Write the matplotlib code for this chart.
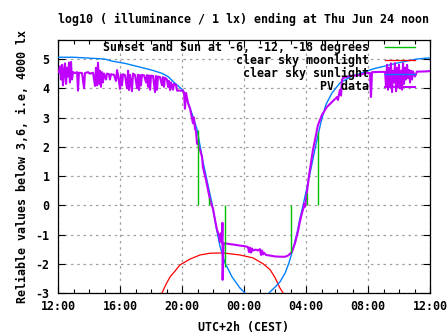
import matplotlib
matplotlib.use("Agg")
import matplotlib.pyplot as plt
from matplotlib.ticker import MultipleLocator, FuncFormatter
from matplotlib.lines import Line2D

# ---- data (time axis in hours after 12:00 CEST) ----
twilight_hours = [9.05, 9.76, 10.77, 15.05, 16.08, 16.79]
twilight_level = [2.57, 0.24, -2.10, -1.64, 0.42, 2.50]

sun_hours = [0.00, 1.00, 2.00, 3.00, 3.48, 4.00, 4.32, 5.16, 6.06, 6.71, 7.10,
             7.55, 8.06, 8.39, 8.71, 8.97, 9.16, 9.35, 9.61, 9.94, 10.26, 10.45,
             10.77, 11.23, 11.74, 12.06, 12.39, 12.90, 13.35, 13.61, 14.00,
             14.32, 14.65, 14.90, 15.16, 15.42, 15.61, 15.81, 16.06, 16.32,
             16.65, 16.97, 17.29, 17.68, 18.19, 18.84, 20.32, 21.87, 23.16, 24.00]
sun_level = [5.06, 5.06, 5.03, 5.00, 4.93, 4.88, 4.85, 4.74, 4.62, 4.51, 4.40,
             4.17, 3.94, 3.52, 3.03, 2.60, 2.05, 1.50, 0.86, 0.05, -0.90, -1.40,
             -1.97, -2.45, -2.83, -3.00, -3.15, -3.30, -3.15, -3.00, -2.80,
             -2.62, -2.32, -1.97, -1.50, -0.95, -0.45, 0.00, 0.60, 1.25,
             2.10, 2.85, 3.45, 3.84, 4.18, 4.38, 4.66, 4.86, 5.00, 5.04]

moon_hours = [6.58, 6.71, 6.97, 7.23, 7.55, 7.87, 8.52, 9.16, 9.81, 10.65,
              11.74, 12.58, 13.23, 13.68, 14.00, 14.32, 14.52, 14.65]
moon_level = [-3.15, -3.00, -2.70, -2.45, -2.25, -2.04, -1.84, -1.70, -1.64,
              -1.63, -1.70, -1.80, -2.00, -2.20, -2.47, -2.83, -3.00, -3.15]

pv_hours = [0.06, 0.13, 0.19, 0.26, 0.32, 0.39, 0.45, 0.52, 0.58, 0.65, 0.71,
            0.77, 0.84, 0.90, 0.97, 1.10, 1.23, 1.29, 1.35, 1.55, 1.68, 1.74,
            1.94, 2.06, 2.26, 2.39, 2.45, 2.52, 2.58, 2.65, 2.71, 2.77, 2.84,
            2.90, 2.97, 3.10, 3.16, 3.29, 3.35, 3.42, 3.61, 3.74, 3.81, 3.87,
            4.00, 4.06, 4.13, 4.19, 4.32, 4.45, 4.52, 4.58, 4.65, 4.77, 4.84,
            4.97, 5.10, 5.16, 5.23, 5.29, 5.35, 5.42, 5.55, 5.68, 5.74, 5.81,
            5.87, 5.94, 6.00, 6.13, 6.26, 6.32, 6.39, 6.45, 6.58, 6.71, 6.77,
            6.84, 6.90, 7.03, 7.10, 7.16, 7.23, 7.29, 7.35, 7.42, 7.48, 7.61,
            7.68, 7.87, 8.06, 8.13, 8.19, 8.26, 8.39, 8.52, 8.65, 8.71, 8.77,
            8.84, 8.90, 8.97, 9.03, 9.10, 9.16, 9.29, 9.35, 9.55, 9.68, 9.81,
            10.00, 10.13, 10.26, 10.39, 10.45, 10.52, 10.58, 10.61, 10.62,
            10.68, 10.77, 11.10, 11.42, 11.74, 12.06, 12.26, 12.32, 12.39,
            12.45, 12.52, 12.58, 12.71, 12.84, 12.90, 13.03, 13.10, 13.16,
            13.23, 13.29, 13.42, 13.68, 14.00, 14.32, 14.65, 14.84, 14.97,
            15.10, 15.29, 15.48, 15.61, 15.74, 15.84, 15.87, 15.94, 16.06,
            16.19, 16.32, 16.45, 16.58, 16.77, 17.03, 17.35, 17.68, 18.00,
            18.06, 18.13, 18.19, 18.26, 18.32, 18.39, 18.84, 19.48, 19.81,
            20.13, 20.19, 20.26, 20.77, 21.10, 21.16, 21.23, 21.29, 21.35,
            21.42, 21.48, 21.55, 21.61, 21.68, 21.74, 21.81, 21.87, 21.94,
            22.00, 22.06, 22.13, 22.19, 22.26, 22.32, 22.39, 22.45, 22.52,
            22.58, 22.65, 22.71, 22.77, 22.84, 22.90, 23.03, 23.16, 23.35,
            23.87, 24.00]
pv_level = [4.55, 4.75, 4.30, 4.80, 4.10, 4.60, 4.85, 4.15, 4.70, 4.40, 4.88,
            4.20, 4.90, 4.30, 4.55, 4.52, 4.55, 3.92, 4.53, 4.52, 4.00, 4.52,
            4.55, 4.50, 4.53, 4.08, 4.70, 4.10, 4.87, 4.15, 4.60, 4.05, 4.55,
            4.20, 4.50, 4.30, 4.50, 4.48, 4.30, 4.48, 4.46, 4.25, 4.62, 4.46,
            3.98, 4.46, 4.10, 4.48, 4.45, 4.00, 4.60, 3.94, 4.46, 3.90, 4.50,
            4.45, 4.00, 4.46, 3.94, 4.45, 4.10, 4.46, 4.44, 4.20, 4.45, 4.05,
            4.44, 3.95, 4.43, 4.42, 3.87, 4.42, 3.95, 4.40, 4.38, 4.10, 4.38,
            4.05, 4.36, 4.30, 4.05, 4.25, 3.94, 4.20, 4.10, 3.95, 4.15, 4.12,
            3.92, 3.92, 3.92, 3.85, 3.30, 3.84, 3.49, 3.30, 2.95, 2.80, 3.00,
            2.60, 2.55, 2.10, 2.20, 1.95, 1.90, 1.66, 1.30, 0.86, 0.52, 0.18,
            -0.12, -0.50, -0.85, -1.02, -1.25, -0.95, -1.30, -0.60, -2.55,
            -1.30, -1.30, -1.33, -1.35, -1.38, -1.40, -1.43, -1.60, -1.45,
            -1.62, -1.48, -1.55, -1.52, -1.53, -1.55, -1.50, -1.70, -1.55,
            -1.68, -1.62, -1.70, -1.72, -1.75, -1.76, -1.76, -1.72, -1.66,
            -1.58, -1.30, -0.90, -0.55, -0.27, -0.09, 0.05, -0.05, 0.45,
            1.00, 1.45, 1.90, 2.23, 2.74, 3.09, 3.36, 3.53, 3.70,
            3.60, 3.80, 3.94, 3.75, 4.28, 4.35, 4.42, 4.45, 4.52,
            4.52, 3.70, 4.55, 4.56, 4.56, 4.10, 4.80, 3.95, 4.70,
            4.05, 4.85, 3.87, 4.60, 4.20, 4.86, 3.90, 4.70, 4.10,
            4.80, 4.00, 4.60, 3.95, 4.85, 4.15, 4.70, 4.30, 4.80,
            4.35, 4.62, 4.20, 4.60, 4.30, 4.58, 4.40, 4.57, 4.57,
            4.58, 4.59]

x_tick_labels = ["12:00", "16:00", "20:00", "00:00", "04:00", "08:00", "12:00"]

# ---- styling ----
FONT = dict(family="DejaVu Sans Mono", weight="bold", size=8.4)
GREEN, RED, BLUE, PURPLE = "#00c000", "#ff0000", "#0080ff", "#c000ff"

fig = plt.figure(figsize=(4.47, 3.35), dpi=100)
ax = fig.add_axes([58 / 447, 1 - 293 / 335, 372 / 447, 253 / 335])

ax.plot(moon_hours, moon_level, color=RED, lw=0.9, zorder=3)
ax.plot(sun_hours, sun_level, color=BLUE, lw=1.0, zorder=3)
ax.plot(pv_hours, pv_level, color=PURPLE, lw=1.5, zorder=4)
ax.vlines(twilight_hours, 0, twilight_level, color=GREEN, lw=1.0, zorder=5)

ax.set_xlim(0, 24)
ax.set_ylim(-3, 5.65)
ax.xaxis.set_major_locator(MultipleLocator(4))
ax.xaxis.set_minor_locator(MultipleLocator(1))
ax.yaxis.set_major_locator(MultipleLocator(1))
ax.xaxis.set_major_formatter(FuncFormatter(lambda v, p: x_tick_labels[int(round(v / 4))]
                                           if 0 <= int(round(v / 4)) < len(x_tick_labels) else ""))
ax.yaxis.set_major_formatter(FuncFormatter(lambda v, p: f"{int(round(v))}"))

ax.tick_params(which="both", direction="in", top=True, right=True, colors="black")
ax.tick_params(which="major", length=5, width=0.8)
ax.tick_params(which="minor", length=3, width=0.8)
ax.tick_params(axis="y", pad=6)
ax.tick_params(axis="x", pad=5)
for lab in ax.get_xticklabels() + ax.get_yticklabels():
    lab.set_fontproperties(matplotlib.font_manager.FontProperties(**FONT))
for sp in ax.spines.values():
    sp.set_linewidth(0.9)

ax.grid(True, which="major", color="#a0a0a0", lw=0.9, linestyle=(0, (2, 3)))
ax.set_axisbelow(True)

ax.set_xlabel("UTC+2h (CEST)", fontdict=FONT, labelpad=6)
ax.set_ylabel("Reliable values below 3,6, i.e, 4000 lx", fontdict=FONT, labelpad=5)
fig.text(243 / 447, 1 - 19 / 335, "log10 ( illuminance / 1 lx) ending at Thu Jun 24 noon",
         ha="center", va="center", **FONT)

# key: right-aligned labels with their sample lines
key_entries = [("Sunset and Sun at -6, -12, -18 degrees", GREEN, 1.0),
               ("clear sky moonlight", RED, 0.9),
               ("clear sky sunlight", BLUE, 1.0),
               ("PV data", PURPLE, 1.5)]
for i, (label, col, lw) in enumerate(key_entries):
    ypix = 47 + i * 13.3
    yf = 1 - ypix / 335
    fig.text(369 / 447, yf, label, ha="right", va="center", **FONT)
    fig.add_artist(Line2D([385 / 447, 415 / 447], [yf, yf], color=col, lw=lw, zorder=5))

fig.savefig("out.png", dpi=100)
